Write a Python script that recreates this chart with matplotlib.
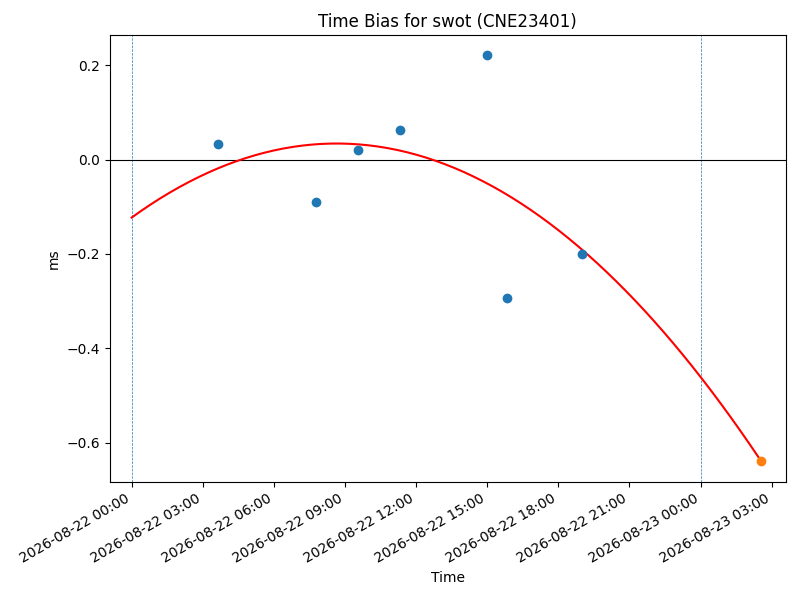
import numpy as np
import pandas as pd
import matplotlib
matplotlib.use("Agg")
import matplotlib.pyplot as plt
import matplotlib.dates as mdates

# measured time bias (ms)
tempi = pd.to_datetime([
    "2026-08-22 03:38", "2026-08-22 07:46", "2026-08-22 09:33",
    "2026-08-22 11:19", "2026-08-22 15:00", "2026-08-22 15:51",
    "2026-08-22 19:01",
])
bias = [0.032, -0.091, 0.021, 0.062, 0.221, -0.294, -0.200]

# predicted point at end of the fit
tempo_pred = pd.to_datetime(["2026-08-23 02:34"])
bias_pred = [-0.640]

# quadratic fit coefficients (hours since 2026-08-22 00:00)
coeff_fit = [-0.002099, 0.036306, -0.123]

giorni = pd.to_datetime(["2026-08-22 00:00", "2026-08-23 00:00"])
t0 = pd.Timestamp("2026-08-22 00:00")

fig, ax = plt.subplots(figsize=(8, 6), dpi=100)

ore = np.linspace(0, (tempo_pred[0] - t0).total_seconds() / 3600, 200)
curva = np.polyval(coeff_fit, ore)
t_curva = t0 + pd.to_timedelta(ore, unit="h")

for g in giorni:
    ax.axvline(g, color="tab:blue", linestyle="--", linewidth=0.5)
ax.axhline(0, color="black", linewidth=0.8)

ax.scatter(tempi, bias, color="tab:blue", zorder=3)
ax.plot(t_curva, curva, color="red", zorder=2)
ax.scatter(tempo_pred, bias_pred, color="tab:orange", zorder=3)

ax.set_xlim(t0 - pd.Timedelta(hours=0.93), t0 + pd.Timedelta(hours=27.59))
ax.xaxis.set_major_locator(mdates.HourLocator(byhour=range(0, 24, 3)))
ax.xaxis.set_major_formatter(mdates.DateFormatter("%Y-%m-%d %H:%M"))
fig.autofmt_xdate()

ax.set_title("Time Bias for swot (CNE23401)")
ax.set_xlabel("Time")
ax.set_ylabel("ms")

fig.subplots_adjust(left=0.137, right=0.982, top=0.9417, bottom=0.197)
fig.savefig("out.png")
